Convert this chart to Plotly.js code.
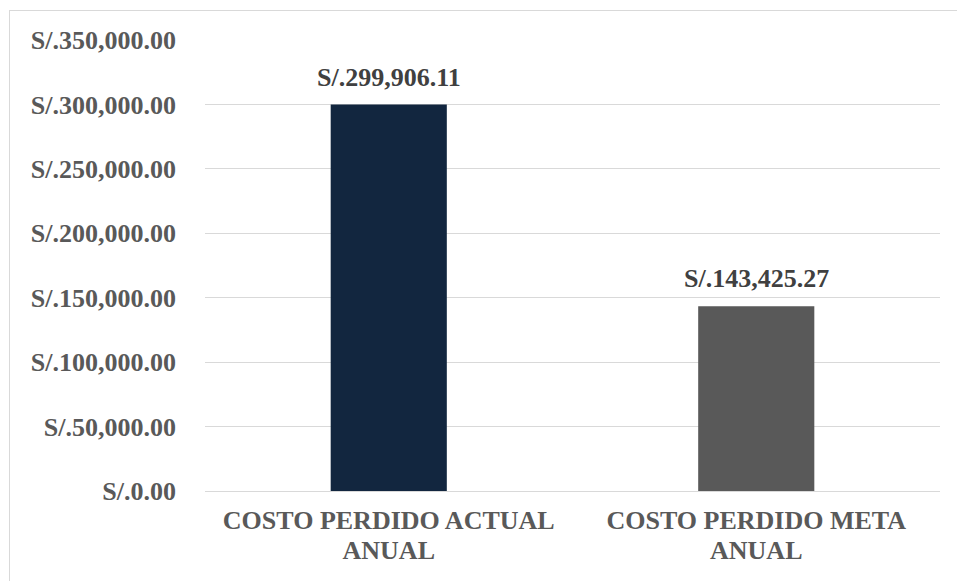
<!DOCTYPE html>
<html>
<head>
<meta charset="utf-8">
<script src="https://cdn.plot.ly/plotly-3.0.1.min.js"></script>
<style>
html,body{margin:0;padding:0;background:#fff;}
#wrap{position:relative;width:957px;height:581px;overflow:hidden;}
#chart{width:957px;height:581px;}
#frame{position:absolute;left:9px;top:10px;width:1000px;height:700px;border:1px solid #d9d9d9;pointer-events:none;}
</style>
</head>
<body>
<div id="wrap"><div id="chart"></div><div id="frame"></div></div>
<script>
const categories = ["COSTO PERDIDO ACTUAL|ANUAL", "COSTO PERDIDO META|ANUAL"];
const values = [299906.11, 143425.27];
const barColors = ["#12263f", "#595959"];
const yTicks = [0, 50000, 100000, 150000, 200000, 250000, 300000, 350000];
const yTickText = ["S/.0.00", "S/.50,000.00", "S/.100,000.00", "S/.150,000.00", "S/.200,000.00", "S/.250,000.00", "S/.300,000.00", "S/.350,000.00"];
const dataLabels = ["S/.299,906.11", "S/.143,425.27"];

const font = "Liberation Serif, Times New Roman, serif";
const line1 = categories.map(c => c.split("|")[0]);
const line2 = categories.map(c => c.split("|")[1]);
const idx = categories.map((c, i) => i);

const trace = {
  type: "bar",
  x: idx,
  y: values,
  marker: {color: barColors},
  hoverinfo: "none"
};

// invisible helper trace so the second-line label axis is drawn
const helper = {
  type: "scatter", mode: "markers",
  x: idx, y: values,
  xaxis: "x2", yaxis: "y",
  marker: {opacity: 0, size: 1},
  hoverinfo: "none", showlegend: false
};

const annotations = idx.map(i => ({
  x: i, y: values[i], xref: "x", yref: "y",
  text: "<b>" + dataLabels[i] + "</b>",
  showarrow: false, yanchor: "bottom", yshift: 11,
  font: {family: font, size: 26, color: "#404040"}
}));

const tickFont = {family: font, size: 26, color: "#595959", weight: "bold"};

const layout = {
  width: 957, height: 581,
  margin: {l: 205, r: 17, t: 40, b: 89.5},
  paper_bgcolor: "#ffffff",
  plot_bgcolor: "#ffffff",
  showlegend: false,
  bargap: 0.684,
  font: {family: font, color: "#595959"},
  annotations: annotations,
  xaxis: {
    range: [-0.5, 1.5],
    tickmode: "array", tickvals: idx, ticktext: line1,
    showgrid: false, zeroline: false, showline: false,
    ticks: "",
    ticklabelstandoff: 11,
    tickfont: tickFont
  },
  xaxis2: {
    overlaying: "x", side: "bottom", anchor: "y",
    range: [-0.5, 1.5],
    tickmode: "array", tickvals: idx, ticktext: line2,
    showgrid: false, zeroline: false, showline: false,
    ticks: "",
    ticklabelstandoff: 41,
    tickfont: tickFont
  },
  yaxis: {
    range: [0, 350000],
    tickmode: "array",
    tickvals: yTicks,
    ticktext: yTickText,
    showgrid: true, gridcolor: "#d9d9d9", gridwidth: 1,
    zeroline: true, zerolinecolor: "#d9d9d9", zerolinewidth: 1,
    showline: false,
    ticks: "",
    ticklabelstandoff: 28,
    tickfont: tickFont
  }
};

Plotly.newPlot("chart", [trace, helper], layout, {staticPlot: true, displayModeBar: false});
</script>
</body>
</html>
